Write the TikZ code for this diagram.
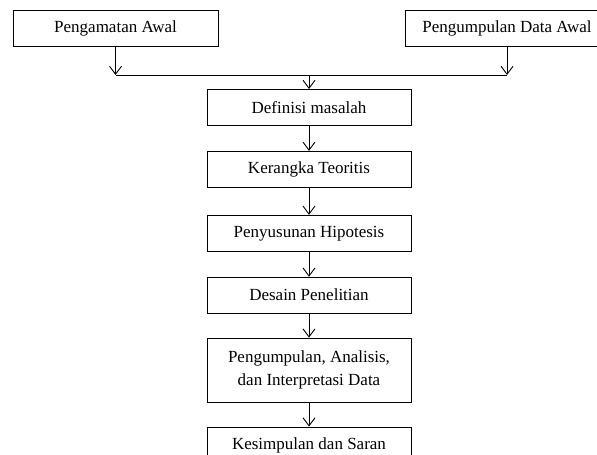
\documentclass[tikz,border=0pt]{standalone}
\usepackage{fontspec}
\setmainfont{Liberation Serif}
\usetikzlibrary{arrows.meta}

\begin{document}
\begin{tikzpicture}[x=1pt,y=-1pt, line width=0.9pt,
    stepbox/.style={draw,fill=white,minimum width=204pt,minimum height=36pt,inner sep=2pt,align=center,font=\fontsize{17}{23}\selectfont},
    arr/.style={-{Straight Barb[length=8pt,width=12pt,line width=0.9pt]}}]
    \useasboundingbox (0,0) rectangle (597,455);
    \clip (0,0) rectangle (597,455);
    \node[stepbox,minimum width=205pt] (awal) at (115.5,28) {Pengamatan Awal};
    \node[stepbox] (data) at (507,28) {Pengumpulan Data Awal};
    \coordinate (join) at (309,75);
    \node[stepbox,anchor=north] (def) at (309,89) {Definisi masalah};
    \node[stepbox,anchor=north] (teori) at ([yshift=-25pt]def.south) {Kerangka Teoritis};
    \node[stepbox,anchor=north] (hipo) at ([yshift=-27pt]teori.south) {Penyusunan Hipotesis};
    \node[stepbox,anchor=north] (desain) at ([yshift=-25pt]hipo.south) {Desain Penelitian};
    \node[stepbox,anchor=north,minimum height=64pt] (olah) at ([yshift=-24pt]desain.south) {Pengumpulan, Analisis,\\dan Interpretasi Data};
    \node[stepbox,anchor=north] (simpul) at ([yshift=-24pt]olah.south) {Kesimpulan dan Saran};

    \draw[arr] (awal) -- (awal |- join);
    \draw[arr] (data) -- (data |- join);
    \draw (awal |- join) -- (data |- join);
    \draw[arr] (join) -- (def);
    \draw[arr] (def) -- (teori);
    \draw[arr] (teori) -- (hipo);
    \draw[arr] (hipo) -- (desain);
    \draw[arr] (desain) -- (olah);
    \draw[arr] (olah) -- (simpul);
\end{tikzpicture}
\end{document}
